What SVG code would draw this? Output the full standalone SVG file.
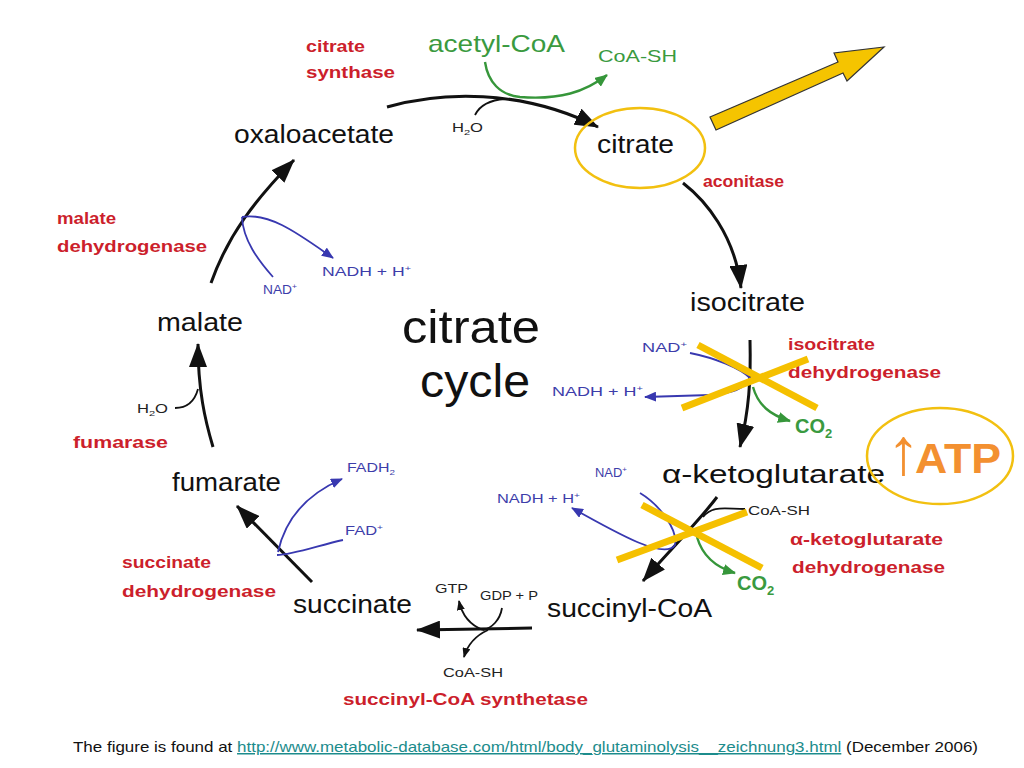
<svg xmlns="http://www.w3.org/2000/svg" width="1024" height="768" viewBox="0 0 1024 768">
<style>
text{font-family:"Liberation Sans",Arial,sans-serif}
.n{font-size:25px;fill:#111}
.big{font-size:46px;fill:#111}
.e{font-size:16px;font-weight:bold;fill:#cc1f2c}
.g{fill:#3a9a3f}
.b{font-size:13px;fill:#3d3daa}
.k{font-size:12px;fill:#222}
.cyc{fill:none;stroke:#111;stroke-width:3}
.thin{fill:none;stroke:#111;stroke-width:1.8}
.bl{fill:none;stroke:#3838b0;stroke-width:1.8}
.gr{fill:none;stroke:#36963a;stroke-width:2.4}
.x{stroke:#f5c000;stroke-width:7;stroke-linecap:butt}
.ring{fill:none;stroke:#f2c010;stroke-width:2.5}
.cap{font-size:15px;fill:#111}
.link{fill:#1c8c8c;text-decoration:underline}
</style>
<defs>
<marker id="hb" viewBox="0 0 24 18" refX="23" refY="9" markerWidth="24" markerHeight="18" markerUnits="userSpaceOnUse" orient="auto"><path d="M0,0 L24,9 L0,18 z" fill="#111"/></marker>
<marker id="hs" viewBox="0 0 10 8" refX="9" refY="4" markerWidth="10" markerHeight="8" markerUnits="userSpaceOnUse" orient="auto"><path d="M0,0 L10,4 L0,8 z" fill="#111"/></marker>
<marker id="hbl" viewBox="0 0 12 10" refX="11" refY="5" markerWidth="12" markerHeight="10" markerUnits="userSpaceOnUse" orient="auto"><path d="M0,0 L12,5 L0,10 z" fill="#3838b0"/></marker>
<marker id="hg" viewBox="0 0 13 11" refX="12" refY="5.5" markerWidth="13" markerHeight="11" markerUnits="userSpaceOnUse" orient="auto"><path d="M0,0 L13,5.5 L0,11 z" fill="#36963a"/></marker>
</defs>
<rect width="1024" height="768" fill="#fff"/>

<g id="connectors">
<!-- main cycle -->
<path class="cyc" d="M387,107 C440,92 520,88 598,127" marker-end="url(#hb)"/>
<path class="cyc" d="M683,183 C705,200 735,235 741,288" marker-end="url(#hb)"/>
<path class="cyc" d="M750,340 C751,380 749,410 740,447" marker-end="url(#hb)"/>
<path class="cyc" d="M717,497 C700,520 670,550 643,581" marker-end="url(#hb)"/>
<path class="cyc" d="M532,628 L417,630" marker-end="url(#hb)"/>
<path class="cyc" d="M312,582 L237,506" marker-end="url(#hb)"/>
<path class="cyc" d="M213,447 C205,420 198,390 198,344" marker-end="url(#hb)"/>
<path class="cyc" d="M211,283 C228,235 255,200 294,160" marker-end="url(#hb)"/>
<!-- citrate synthase side -->
<path class="thin" d="M475,115 C480,105 490,100 505,99"/>
<path class="gr" d="M485,62 C488,82 500,95 520,97 C560,100 585,92 607,75" marker-end="url(#hg)"/>
<!-- isocitrate dehydrogenase side -->
<path class="bl" d="M690,353 C715,358 740,368 750,378 C745,390 730,394 710,395 L645,397" marker-end="url(#hbl)"/>
<path class="gr" d="M753,387 C758,405 770,415 790,421" marker-end="url(#hg)"/>
<!-- alpha-KG dehydrogenase side -->
<path class="thin" d="M703,517 C712,505 725,509 745,509"/>
<path class="bl" d="M640,493 C660,505 678,530 675,545 C665,560 620,535 572,508" marker-end="url(#hbl)"/>
<path class="gr" d="M697,537 C703,558 718,568 735,573" marker-end="url(#hg)"/>
<!-- succinyl-CoA synthetase side -->
<path class="thin" d="M483,630 C470,625 462,615 459,601" marker-end="url(#hs)"/>
<path class="thin" d="M502,608 C500,620 492,628 483,630"/>
<path class="thin" d="M488,630 C477,635 468,643 464,657" marker-end="url(#hs)"/>
<!-- succinate dehydrogenase side -->
<path class="bl" d="M278,552 C285,520 305,495 342,479" marker-end="url(#hbl)"/>
<path class="bl" d="M343,540 C320,545 292,555 277,555"/>
<!-- fumarase side -->
<path class="thin" d="M175,408 C188,408 195,400 198,389"/>
<!-- malate dehydrogenase side -->
<path class="bl" d="M242,217 C270,212 300,235 333,258" marker-end="url(#hbl)"/>
<path class="bl" d="M273,277 C258,260 243,240 242,217"/>
</g>

<g id="oxaloacetate"><text class="n" x="234" y="143" textLength="160" lengthAdjust="spacingAndGlyphs">oxaloacetate</text></g>
<g id="citrate">
<text class="n" x="597" y="153" textLength="77" lengthAdjust="spacingAndGlyphs">citrate</text>
<ellipse class="ring" cx="640" cy="148" rx="65" ry="40"/>
</g>
<g id="isocitrate"><text class="n" x="690" y="311" textLength="115" lengthAdjust="spacingAndGlyphs">isocitrate</text></g>
<g id="ketoglutarate"><text class="n" x="662" y="483" textLength="223" lengthAdjust="spacingAndGlyphs">α-ketoglutarate</text></g>
<g id="succinylcoa"><text class="n" x="547" y="617" textLength="165" lengthAdjust="spacingAndGlyphs">succinyl-CoA</text></g>
<g id="succinate"><text class="n" x="293" y="613" textLength="119" lengthAdjust="spacingAndGlyphs">succinate</text></g>
<g id="fumarate"><text class="n" x="172" y="491" textLength="109" lengthAdjust="spacingAndGlyphs">fumarate</text></g>
<g id="malate"><text class="n" x="157" y="331" textLength="86" lengthAdjust="spacingAndGlyphs">malate</text></g>

<g id="title">
<text class="big" x="402" y="343" textLength="138" lengthAdjust="spacingAndGlyphs">citrate</text>
<text class="big" x="420" y="397" textLength="110" lengthAdjust="spacingAndGlyphs">cycle</text>
</g>

<g id="enzymes">
<text class="e" x="306" y="52" textLength="59" lengthAdjust="spacingAndGlyphs">citrate</text>
<text class="e" x="306" y="78" textLength="89" lengthAdjust="spacingAndGlyphs">synthase</text>
<text class="e" x="703" y="187" textLength="81" lengthAdjust="spacingAndGlyphs">aconitase</text>
<text class="e" x="788" y="350" textLength="87" lengthAdjust="spacingAndGlyphs">isocitrate</text>
<text class="e" x="788" y="378" textLength="153" lengthAdjust="spacingAndGlyphs">dehydrogenase</text>
<text class="e" x="790" y="545" textLength="153" lengthAdjust="spacingAndGlyphs">α-ketoglutarate</text>
<text class="e" x="792" y="573" textLength="153" lengthAdjust="spacingAndGlyphs">dehydrogenase</text>
<text class="e" x="343" y="705" textLength="245" lengthAdjust="spacingAndGlyphs">succinyl-CoA synthetase</text>
<text class="e" x="122" y="568" textLength="89" lengthAdjust="spacingAndGlyphs">succinate</text>
<text class="e" x="122" y="597" textLength="154" lengthAdjust="spacingAndGlyphs">dehydrogenase</text>
<text class="e" x="73" y="448" textLength="95" lengthAdjust="spacingAndGlyphs">fumarase</text>
<text class="e" x="57" y="224" textLength="59" lengthAdjust="spacingAndGlyphs">malate</text>
<text class="e" x="57" y="252" textLength="150" lengthAdjust="spacingAndGlyphs">dehydrogenase</text>
</g>

<g id="cofactors">
<text class="g" x="428" y="52" font-size="24" textLength="137" lengthAdjust="spacingAndGlyphs">acetyl-CoA</text>
<text class="g" x="598" y="62" font-size="17" textLength="79" lengthAdjust="spacingAndGlyphs">CoA-SH</text>
<text class="g" x="795" y="433" font-size="20" font-weight="bold">CO<tspan font-size="13" dy="5">2</tspan></text>
<text class="g" x="737" y="590" font-size="20" font-weight="bold">CO<tspan font-size="13" dy="5">2</tspan></text>
<text class="k" x="452" y="132" textLength="31" lengthAdjust="spacingAndGlyphs">H<tspan font-size="8" dy="3">2</tspan><tspan dy="-3">O</tspan></text>
<text class="k" x="137" y="413" textLength="31" lengthAdjust="spacingAndGlyphs">H<tspan font-size="8" dy="3">2</tspan><tspan dy="-3">O</tspan></text>
<text class="k" x="748" y="515" textLength="62" lengthAdjust="spacingAndGlyphs">CoA-SH</text>
<text class="k" x="435" y="593" textLength="33" lengthAdjust="spacingAndGlyphs">GTP</text>
<text class="k" x="480" y="600" textLength="58" lengthAdjust="spacingAndGlyphs">GDP + P</text>
<text class="k" x="443" y="677" textLength="60" lengthAdjust="spacingAndGlyphs">CoA-SH</text>
<text class="b" x="642" y="352" textLength="45" lengthAdjust="spacingAndGlyphs">NAD<tspan font-size="8" dy="-5">+</tspan></text>
<text class="b" x="552" y="396" textLength="91" lengthAdjust="spacingAndGlyphs">NADH + H<tspan font-size="8" dy="-5">+</tspan></text>
<text class="b" x="595" y="477" textLength="32" lengthAdjust="spacingAndGlyphs">NAD<tspan font-size="8" dy="-5">+</tspan></text>
<text class="b" x="497" y="503" textLength="83" lengthAdjust="spacingAndGlyphs">NADH + H<tspan font-size="8" dy="-5">+</tspan></text>
<text class="b" x="263" y="294" textLength="34" lengthAdjust="spacingAndGlyphs">NAD<tspan font-size="8" dy="-5">+</tspan></text>
<text class="b" x="322" y="276" textLength="89" lengthAdjust="spacingAndGlyphs">NADH + H<tspan font-size="8" dy="-5">+</tspan></text>
<text class="b" x="347" y="472" textLength="48" lengthAdjust="spacingAndGlyphs">FADH<tspan font-size="8" dy="3">2</tspan></text>
<text class="b" x="345" y="535" textLength="38" lengthAdjust="spacingAndGlyphs">FAD<tspan font-size="8" dy="-5">+</tspan></text>
</g>

<g id="blocks">
<line class="x" x1="698" y1="345" x2="817" y2="408"/>
<line class="x" x1="682" y1="408" x2="808" y2="359"/>
<line class="x" x1="642" y1="505" x2="762" y2="568"/>
<line class="x" x1="617" y1="560" x2="747" y2="512"/>
</g>

<g id="output-arrow">
<polygon points="710,117 838,62 834,53 884,47 847,81 843,73 716,130" fill="#f5c400" stroke="#333" stroke-width="1.2" stroke-linejoin="miter"/>
</g>

<g id="atp">
<ellipse class="ring" cx="940" cy="456" rx="73" ry="48"/>
<text x="887" y="474" font-size="66" fill="#f39030">↑</text>
<text x="915" y="473" font-size="42" font-weight="bold" fill="#f39030" textLength="86" lengthAdjust="spacingAndGlyphs">ATP</text>
</g>

<g id="caption">
<text class="cap" x="73" y="752" textLength="905" lengthAdjust="spacingAndGlyphs">The figure is found at <tspan class="link">http://www.metabolic-database.com/html/body_glutaminolysis__zeichnung3.html</tspan> (December 2006)</text>
</g>
</svg>
